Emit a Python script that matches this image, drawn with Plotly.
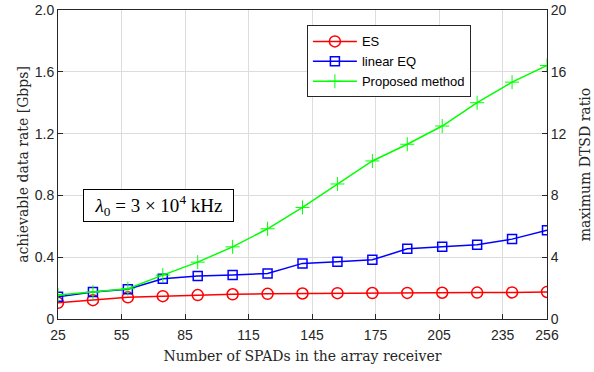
import plotly.graph_objects as go

spads = [25, 41.5, 58, 74.5, 91, 107.5, 124, 140.5, 157, 173.5, 190, 206.5, 223, 239.5, 256]
es = [0.105, 0.122, 0.140, 0.148, 0.155, 0.160, 0.163, 0.165, 0.167, 0.168, 0.169, 0.170, 0.171, 0.172, 0.175]
linear_eq = [0.144, 0.174, 0.192, 0.260, 0.278, 0.284, 0.295, 0.360, 0.370, 0.383, 0.454, 0.467, 0.480, 0.517, 0.575]
proposed = [0.155, 0.174, 0.196, 0.284, 0.368, 0.467, 0.584, 0.722, 0.874, 1.023, 1.131, 1.249, 1.400, 1.533, 1.641]

x_ticks = [25, 55, 85, 115, 145, 175, 205, 235, 256]
y_ticks = [0, 0.4, 0.8, 1.2, 1.6, 2.0]
y_ticklabels = ["0", "0.4", "0.8", "1.2", "1.6", "2.0"]
y2_ticks = [0, 4, 8, 12, 16, 20]

sans = "Liberation Sans, Arial, sans-serif"
serif = "DejaVu Serif, serif"
axcol = "#262626"

fig = go.Figure()
fig.add_trace(go.Scatter(x=spads, y=es, name="ES", mode="lines+markers",
                         line=dict(color="#ff0000", width=1.5),
                         marker=dict(symbol="circle-open", size=11, color="#ff0000", line=dict(width=1.5))))
fig.add_trace(go.Scatter(x=spads, y=linear_eq, name="linear EQ", mode="lines+markers",
                         line=dict(color="#0000ff", width=1.5),
                         marker=dict(symbol="square-open", size=9, color="#0000ff", line=dict(width=1.5))))
fig.add_trace(go.Scatter(x=spads, y=proposed, name="Proposed method", mode="lines+markers",
                         line=dict(color="#00ff00", width=1.5),
                         marker=dict(symbol="cross-thin-open", size=10, color="#00ff00", line=dict(width=1, color="#00ff00"))))
fig.add_trace(go.Scatter(x=[None], y=[None], yaxis="y2", showlegend=False, hoverinfo="skip"))

axis_common = dict(showline=True, linecolor=axcol, linewidth=1, automargin=False,
                   ticks="inside", ticklen=5, tickcolor=axcol,
                   showgrid=True, gridcolor="#dcdcdc", gridwidth=1, zeroline=False,
                   tickfont=dict(family=sans, size=14, color=axcol))

fig.update_layout(
    width=594, height=372,
    margin=dict(l=58, r=47, t=10, b=53),
    paper_bgcolor="white", plot_bgcolor="white",
    xaxis=dict(range=[25, 256], tickvals=x_ticks, mirror=True, ticklabelstandoff=3,
               title=dict(text="Number of SPADs in the array receiver", font=dict(family=serif, size=14, color=axcol), standoff=9),
               **axis_common),
    yaxis=dict(range=[0, 2.0], tickvals=y_ticks, ticktext=y_ticklabels,
               title=dict(text="achievable data rate [Gbps]", font=dict(family=serif, size=14, color=axcol), standoff=2),
               **axis_common),
    yaxis2=dict(range=[0, 20], tickvals=y2_ticks, overlaying="y", side="right", automargin=False,
                showline=True, linecolor=axcol, linewidth=1, ticks="inside", ticklen=5, tickcolor=axcol,
                showgrid=False, zeroline=False,
                tickfont=dict(family=sans, size=14, color=axcol),
                title=dict(text="maximum DTSD ratio", font=dict(family=serif, size=14, color=axcol), standoff=14)),
    legend=dict(x=0.509, y=0.95, xanchor="left", yanchor="top",
                bgcolor="white", bordercolor=axcol, borderwidth=1, itemwidth=44,
                font=dict(family=sans, size=13, color="black"), tracegroupgap=0),
    showlegend=True,
)

fig.add_annotation(xref="paper", yref="paper", x=0.2055, y=0.367, xanchor="center", yanchor="middle",
                   text="<i>λ</i><sub>0</sub> = 3 × 10<sup>4</sup> kHz", showarrow=False,
                   width=143, height=25, align="center",
                   font=dict(family="Liberation Serif, serif", size=19, color="black"),
                   bordercolor="black", borderwidth=1, borderpad=3, bgcolor="white")

fig.write_html("out.html")
